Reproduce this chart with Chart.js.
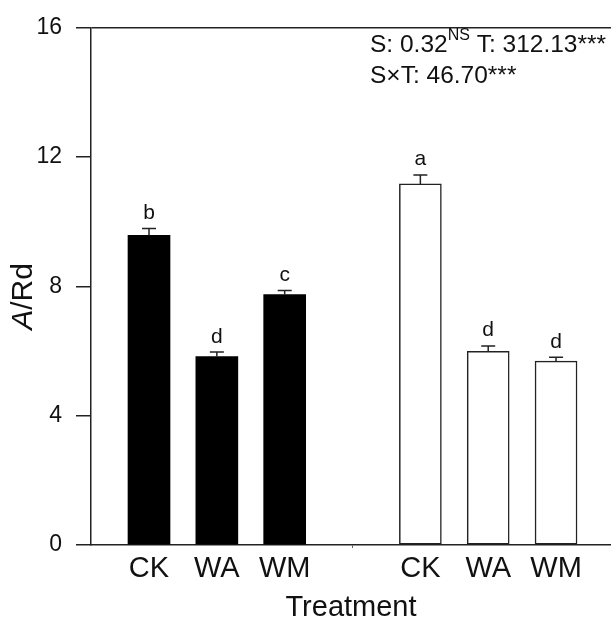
<!DOCTYPE html>
<html>
<head>
<meta charset="utf-8">
<script src="https://cdn.jsdelivr.net/npm/chart.js@4/dist/chart.umd.min.js"></script>
<style>
  html, body { margin: 0; padding: 0; background: #fff; }
  #wrap { width: 611px; height: 620px; }
</style>
</head>
<body>
<div id="wrap"><canvas id="c" width="611" height="620"></canvas></div>
<script>
// ---- data ----
const xLabels = ['CK', 'WA', 'WM', '', 'CK', 'WA', 'WM'];
const yTicks = [0, 4, 8, 12, 16];
const blackValues = [9.58, 5.83, 7.75];
const blackErrors = [0.21, 0.14, 0.12];
const blackLetters = ['b', 'd', 'c'];
const whiteValues = [11.17, 5.99, 5.69];
const whiteErrors = [0.28, 0.17, 0.12];
const whiteLetters = ['a', 'd', 'd'];
const statsLine1 = ['S: 0.32', 'NS', ' T: 312.13***'];
const statsLine2 = 'S\u00d7T: 46.70***';

const FONT = '"Liberation Sans", Arial, Helvetica, sans-serif';
const INK = '#111';

const blackData = blackValues.map((v, i) => ({ x: i + 1, y: v }));
const whiteData = whiteValues.map((v, i) => ({ x: i + 5, y: v }));
const errs = [blackErrors, whiteErrors];
const letters = [blackLetters, whiteLetters];

const overlay = {
  id: 'overlay',
  afterDatasetsDraw(chart) {
    const ctx = chart.ctx;
    const ys = chart.scales.y;
    ctx.save();
    ctx.strokeStyle = '#222';
    ctx.lineWidth = 1.5;
    ctx.fillStyle = INK;
    ctx.font = '21px ' + FONT;
    ctx.textAlign = 'center';
    ctx.textBaseline = 'alphabetic';
    chart.data.datasets.forEach((ds, d) => {
      const meta = chart.getDatasetMeta(d);
      meta.data.forEach((bar, i) => {
        const v = ds.data[i].y;
        const e = errs[d][i];
        const yTop = ys.getPixelForValue(v);
        const yCap = ys.getPixelForValue(v + e);
        ctx.beginPath();
        ctx.moveTo(bar.x, yTop);
        ctx.lineTo(bar.x, yCap);
        ctx.moveTo(bar.x - 7, yCap);
        ctx.lineTo(bar.x + 7, yCap);
        ctx.stroke();
        ctx.fillText(letters[d][i], bar.x, yCap - 9.5);
      });
    });
    ctx.restore();
  },
  afterDraw(chart) {
    const ctx = chart.ctx;
    const area = chart.chartArea;
    ctx.save();
    ctx.fillStyle = INK;
    // stats annotation
    ctx.textAlign = 'left';
    ctx.textBaseline = 'alphabetic';
    let x = 370;
    ctx.font = '24.5px ' + FONT;
    ctx.fillText(statsLine1[0], x, 52);
    x += ctx.measureText(statsLine1[0]).width;
    ctx.font = '16px ' + FONT;
    ctx.fillText(statsLine1[1], x, 40);
    x += ctx.measureText(statsLine1[1]).width;
    ctx.font = '24.5px ' + FONT;
    ctx.fillText(statsLine1[2], x, 52);
    ctx.fillText(statsLine2, 370, 82.5);
    // y axis title A/Rd (italic A)
    const cy = (area.top + area.bottom) / 2 + 10;
    ctx.translate(24, cy);
    ctx.rotate(-Math.PI / 2);
    ctx.textBaseline = 'middle';
    ctx.font = 'italic 30px ' + FONT;
    const wA = ctx.measureText('A').width;
    ctx.font = '30px ' + FONT;
    const wR = ctx.measureText('/Rd').width;
    const start = -(wA + wR) / 2;
    ctx.font = 'italic 30px ' + FONT;
    ctx.fillText('A', start, 0);
    ctx.font = '30px ' + FONT;
    ctx.fillText('/Rd', start + wA, 0);
    ctx.restore();
  }
};

const tickVal = (c) => (c && c.tick ? c.tick.value : null);

new Chart(document.getElementById('c'), {
  type: 'bar',
  data: {
    datasets: [
      {
        data: blackData,
        backgroundColor: '#000',
        borderWidth: 0,
        barThickness: 42,
        grouped: false
      },
      {
        data: whiteData,
        backgroundColor: '#fff',
        borderColor: '#222',
        borderWidth: 1.5,
        borderSkipped: false,
        barThickness: 42,
        grouped: false
      }
    ]
  },
  options: {
    responsive: false,
    animation: false,
    devicePixelRatio: 1,
    layout: { padding: { top: 23, left: 0, right: 0, bottom: 0 } },
    plugins: { legend: { display: false }, tooltip: { enabled: false } },
    scales: {
      x: {
        type: 'linear',
        offset: false,
        min: 0.145,
        max: 7.81,
        afterBuildTicks(scale) {
          scale.ticks = xLabels.map((_, i) => ({ value: i + 1 }));
        },
        afterFit(scale) { scale.height = 75; },
        border: { display: true, color: '#222', width: 1.5 },
        grid: {
          display: true,
          offset: false,
          drawOnChartArea: false,
          tickLength: 3,
          color: 'rgba(0,0,0,0)',
          tickColor: (c) => {
            const v = tickVal(c);
            return v !== null && xLabels[v - 1] === '' ? '#666' : 'rgba(0,0,0,0)';
          }
        },
        ticks: {
          autoSkip: false,
          maxRotation: 0,
          padding: 4,
          color: INK,
          font: { family: FONT, size: 29 },
          callback: (v) => xLabels[v - 1] ?? ''
        },
        title: {
          display: true,
          text: 'Treatment',
          color: INK,
          font: { family: FONT, size: 29, lineHeight: 0.83 },
          padding: 0
        }
      },
      y: {
        min: 0,
        max: 16,
        afterBuildTicks(scale) {
          scale.ticks = yTicks.map(v => ({ value: v }));
        },
        afterFit(scale) { scale.width = 91; },
        border: { display: true, color: '#222', width: 1.5 },
        grid: {
          drawOnChartArea: true,
          color: (c) => (tickVal(c) === 16 ? '#222' : 'rgba(0,0,0,0)'),
          lineWidth: 1.5,
          tickColor: '#222',
          tickLength: 15
        },
        ticks: {
          padding: 14,
          color: INK,
          font: { family: FONT, size: 23 }
        }
      }
    }
  },
  plugins: [overlay]
});
</script>
</body>
</html>
